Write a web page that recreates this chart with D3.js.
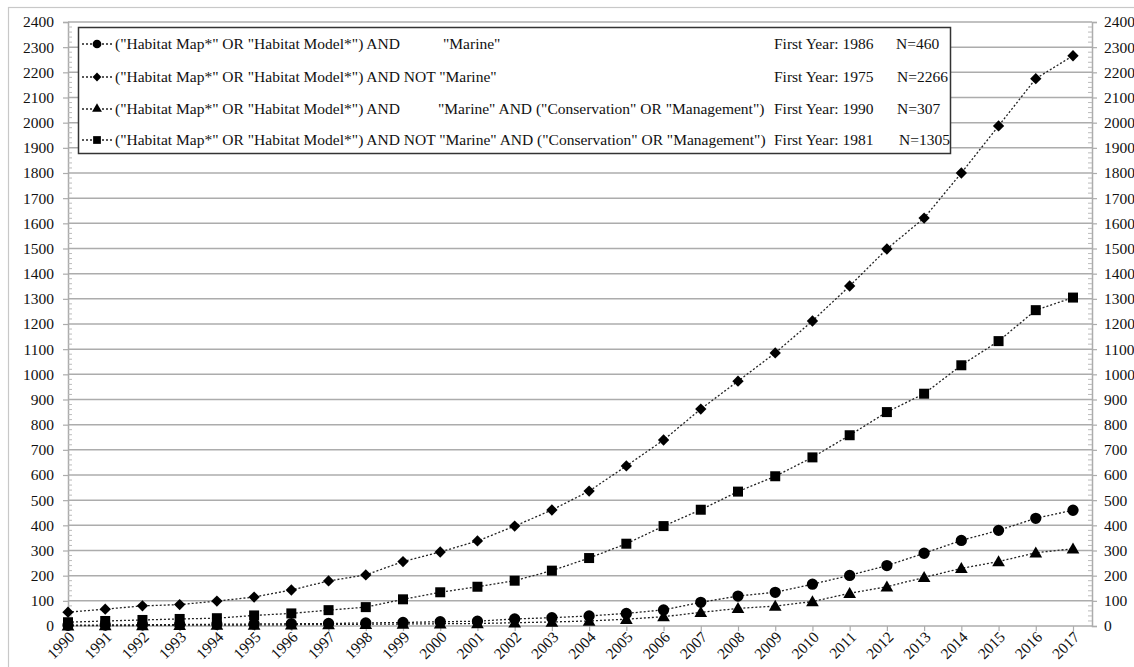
<!DOCTYPE html>
<html>
<head>
<meta charset="utf-8">
<script src="https://cdn.jsdelivr.net/npm/d3@7"></script>
<style>
  html, body { margin: 0; padding: 0; background: #fff; }
  svg, svg text { font-family: "Liberation Serif", "Times New Roman", Times, "DejaVu Serif", serif !important; }
</style>
</head>
<body>
<svg id="chart" width="1134" height="667"></svg>
<script>
// ---- Data ----
const years = d3.range(1990, 2018);
const yTicks = d3.range(0, 2401, 100);
const marineAll = [3,4,5,6,7,8,9,10,12,14,17,19,28,33,40,50,64,94,119,134,166,201,240,289,340,380,428,460];
const notMarineAll = [55,67,80,85,99,115,143,179,203,256,294,338,397,461,536,636,739,862,973,1085,1212,1351,1498,1621,1800,1987,2175,2266];
const marineCons = [1,2,2,3,4,4,5,6,7,8,9,10,13,16,20,27,37,54,70,79,97,130,156,193,229,256,291,307];
const notMarineCons = [15,20,24,28,31,42,50,63,75,106,134,156,180,220,270,327,397,462,534,595,670,758,850,923,1036,1132,1255,1305];

const legendQuery = ["(\"Habitat Map*\" OR \"Habitat Model*\") AND", "(\"Habitat Map*\" OR \"Habitat Model*\") AND NOT \"Marine\"", "(\"Habitat Map*\" OR \"Habitat Model*\") AND", "(\"Habitat Map*\" OR \"Habitat Model*\") AND NOT \"Marine\" AND (\"Conservation\" OR \"Management\")"];
const legendQuery2 = ["\"Marine\"", "", "\"Marine\" AND (\"Conservation\" OR \"Management\")", ""];
const firstYears = [1986, 1975, 1990, 1981];
const totals = [460, 2266, 307, 1305];
const shapes = ["circle", "diamond", "triangle", "square"];

const seriesList = [marineAll, notMarineAll, marineCons, notMarineCons];

// ---- Layout ----
const FONT = "'Liberation Serif', 'Times New Roman', Times, 'DejaVu Serif', serif";
const FS = 15.5;
const svg = d3.select("#chart");
const pL = 68, pR = 1092, pT = 22, pB = 626;
const x = d3.scaleLinear().domain([1990, 2017]).range([68, 1073]);
const y = d3.scaleLinear().domain([0, 2400]).range([pB, pT]);

// outer border
svg.append("rect").attr("x", 8.5).attr("y", 7.5).attr("width", 1140).attr("height", 680)
  .attr("fill", "none").attr("stroke", "#c8c8c8").attr("stroke-width", 1.2);

// gridlines
svg.append("g").selectAll("line").data(yTicks).join("line")
  .attr("x1", pL).attr("x2", pR)
  .attr("y1", d => y(d)).attr("y2", d => y(d))
  .attr("stroke", "#acacac").attr("stroke-width", 1.5);

// axes
const leftAxis = svg.append("g").attr("transform", `translate(${pL},0)`)
  .call(d3.axisLeft(y).tickValues(yTicks).tickSize(5).tickPadding(9).tickFormat(d3.format("d")));
const rightAxis = svg.append("g").attr("transform", `translate(${pR},0)`)
  .call(d3.axisRight(y).tickValues(yTicks).tickSize(5).tickPadding(7).tickFormat(d3.format("d")));
[leftAxis, rightAxis].forEach(g => {
  g.attr("font-family", null).style("font-family", FONT);
  g.select(".domain").attr("stroke", "#acacac").attr("stroke-width", 1.5);
  g.selectAll(".tick line").attr("stroke", "#acacac").attr("stroke-width", 1.2);
  g.selectAll(".tick text").attr("font-size", FS).attr("fill", "#111").style("font-family", FONT);
});
// minor ticks
const minor = d3.range(0, 2401, 20).filter(v => v % 100 !== 0);
svg.append("g").selectAll("line").data(minor).join("line")
  .attr("x1", pL).attr("x2", pL + 4).attr("y1", d => y(d)).attr("y2", d => y(d))
  .attr("stroke", "#bbb").attr("stroke-width", 1);
svg.append("g").selectAll("line").data(minor).join("line")
  .attr("x1", pR - 4).attr("x2", pR).attr("y1", d => y(d)).attr("y2", d => y(d))
  .attr("stroke", "#bbb").attr("stroke-width", 1);

// x axis
const xAxis = svg.append("g").attr("transform", `translate(0,${pB})`)
  .call(d3.axisBottom(x).tickValues(years).tickSize(5).tickFormat(d3.format("d")));
xAxis.attr("font-family", null).style("font-family", FONT);
xAxis.select(".domain").remove();
xAxis.selectAll(".tick line").attr("stroke", "#acacac").attr("stroke-width", 1.2);
xAxis.selectAll(".tick text")
  .attr("font-size", FS).attr("fill", "#111").style("font-family", FONT)
  .attr("text-anchor", "end").attr("dy", null).attr("y", 0)
  .attr("transform", "translate(7,12) rotate(-45)");

// symbols
const symType = {circle: d3.symbolCircle, diamond: d3.symbolSquare, triangle: d3.symbolTriangle, square: d3.symbolSquare};
const symSize = {circle: 100, diamond: 64, triangle: 70, square: 100};
const symRot = {circle: 0, diamond: 45, triangle: 0, square: 0};
function sym(shape, scale) { return d3.symbol().type(symType[shape]).size(symSize[shape] * (scale || 1))(); }

const line = d3.line().x((d, i) => x(years[i])).y(d => y(d));
seriesList.forEach((s, k) => {
  svg.append("path").datum(s).attr("d", line)
    .attr("fill", "none").attr("stroke", "#222").attr("stroke-width", 1.3)
    .attr("stroke-dasharray", "2,2");
});
seriesList.forEach((s, k) => {
  svg.append("g").selectAll("path").data(s).join("path")
    .attr("transform", (d, i) => `translate(${x(years[i])},${y(d) + (shapes[k] === "triangle" ? 1 : 0)}) rotate(${symRot[shapes[k]]})`)
    .attr("d", sym(shapes[k])).attr("fill", "#000");
});

// legend
const lg = svg.append("g").style("font-family", FONT);
lg.append("rect").attr("x", 78.5).attr("y", 27.5).attr("width", 872).attr("height", 126)
  .attr("fill", "#fff").attr("stroke", "#333").attr("stroke-width", 1.5);
const rowY = [44, 77, 109, 140];
const q2x = [443, 0, 438, 0];
const nx = [896, 897, 897, 899];
shapes.forEach((sh, k) => {
  const cy = rowY[k];
  lg.append("line").attr("x1", 82).attr("x2", 112).attr("y1", cy).attr("y2", cy)
    .attr("stroke", "#222").attr("stroke-width", 1.3).attr("stroke-dasharray", "2,2");
  lg.append("path").attr("transform", `translate(97,${cy}) rotate(${symRot[sh]})`)
    .attr("d", sym(sh, 0.6)).attr("fill", "#000");
  const t = (txt, tx) => lg.append("text").attr("x", tx).attr("y", cy + 5)
    .attr("font-size", FS).attr("fill", "#111").style("font-family", FONT).text(txt);
  t(legendQuery[k], 115);
  if (legendQuery2[k]) t(legendQuery2[k], q2x[k]);
  t("First Year: " + firstYears[k], 774);
  t("N=" + totals[k], nx[k]);
});
</script>
</body>
</html>
